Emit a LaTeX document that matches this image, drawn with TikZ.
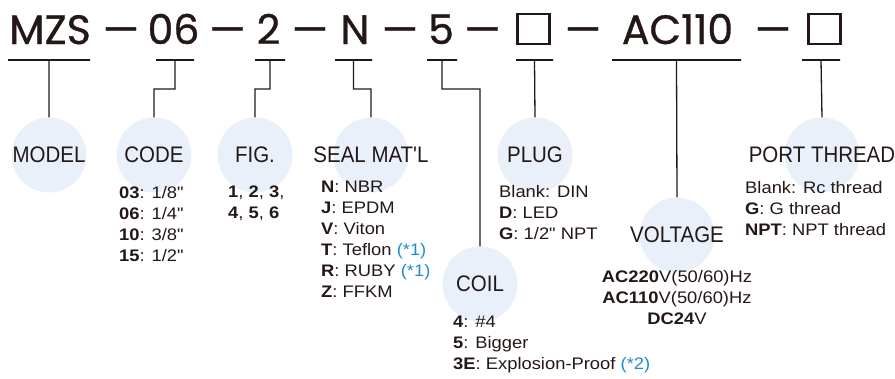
\documentclass[tikz,border=0pt]{standalone}
\usepackage{fontspec}
\setmainfont{Liberation Sans}
\newfontfamily\listfont[FakeStretch=1.1]{Liberation Sans}
\newfontfamily\labelfont[FakeStretch=0.91]{Liberation Sans}
\newfontfamily\titlefont[FakeBold=0.8]{Poppins}
\usetikzlibrary{positioning}
\definecolor{ink}{RGB}{35,24,21}
\definecolor{bubblefill}{RGB}{234,240,250}
\definecolor{noteblue}{RGB}{30,140,210}
\newcommand{\note}[1]{\textcolor{noteblue}{#1}}
\tikzset{
    %Define style for the parts of the code
    part/.style={
           font=\titlefont\fontsize{41}{41}\selectfont,
           text=ink,
           inner sep=0pt,
           anchor=base},
    blankbox/.style={
           rectangle,
           draw=ink, line width=2.6pt,
           minimum width=32pt,
           minimum height=30pt,
           inner sep=0pt},
    %Define style for the underlines
    tick/.style={
           rectangle,
           draw=ink, line width=1.3pt,
           inner sep=0pt,
           outer sep=0pt,
           minimum height=0pt},
    bubble/.style={
           circle,
           fill=bubblefill,
           minimum size=75pt,
           inner sep=0pt},
    caption/.style={
           font=\labelfont\fontsize{22.5}{24}\selectfont,
           text=ink,
           inner sep=0pt},
    list/.style={
           font=\listfont\fontsize{16.7}{21}\selectfont,
           text=ink,
           inner sep=0pt,
           align=left,
           anchor=north west},
    % Define line style
    lead/.style={
           draw=ink,
           line width=1.3pt}
}
\begin{document}
\begin{tikzpicture}[x=1pt,y=-1pt]
\useasboundingbox (0,0) rectangle (895,378);
% code
\node[part](mzs) at (50,44){MZS};
\node[part](d1) at (121,44){—};
\node[part](size) at (173.5,44){06};
\node[part](d2) at (227.5,44){—};
\node[part](fig) at (268.5,44){2};
\node[part](d3) at (310,44){—};
\node[part](seal) at (355,44){N};
\node[part](d4) at (400,44){—};
\node[part](coil) at (441,44){5};
\node[part](d5) at (482.5,44){—};
\node[blankbox](plug) at (533.5,29){};
\node[part](d6) at (583,44){—};
\node[part](volt) at (677.5,44){AC110};
\node[part](d7) at (773,44){—};
\node[blankbox](port) at (824.5,29){};
% underlines
\node[tick, minimum width=82pt](uModel) at (49,60){};
\node[tick, minimum width=38pt](uCode) at (175,60){};
\node[tick, minimum width=30pt](uFig) at (270,60){};
\node[tick, minimum width=37pt](uSeal) at (353.5,60){};
\node[tick, minimum width=30pt](uCoil) at (442,60){};
\node[tick, minimum width=37pt](uPlug) at (534.5,60){};
\node[tick, minimum width=129pt](uVolt) at (676.5,60){};
\node[tick, minimum width=38pt](uPort) at (821,60){};
% bubbles
\node[bubble](cModel) at (49,155){};
\node[bubble](cCode) at (154,155){};
\node[bubble](cFig) at (255,155){};
\node[bubble](cSeal) at (371,155){};
\node[bubble](cCoil) at (480,284){};
\node[bubble](cPlug) at (535,155){};
\node[bubble](cVolt) at (677,235){};
\node[bubble](cPort) at (822,155){};
\path[lead]
	(uModel) -- (cModel.north)
	(uCode) -- ++(0,29) -| (cCode.north)
	(uFig) -- ++(0,29) -| (cFig.north)
	(uSeal) -- ++(0,29) -| (cSeal.north)
	(uCoil) -- ++(0,29) -| (cCoil.north)
	(uPlug) -- (cPlug.north)
	(uVolt) -- (cVolt.north)
	(uPort) -- (cPort.north);
% captions
\node[caption](model) at (cModel){MODEL};
\node[caption](code) at (cCode){CODE};
\node[caption](figure) at (cFig){FIG.};
\node[caption](sealmat) at (cSeal){SEAL MAT'L};
\node[caption](coiltype) at (cCoil){COIL};
\node[caption](plugtype) at (cPlug){PLUG};
\node[caption](voltage) at (cVolt){VOLTAGE};
\node[caption](thread) at (cPort){PORT THREAD};
% options
\node[list](codeList) at (119,186){\textbf{03}: 1/8"\\\textbf{06}: 1/4"\\\textbf{10}: 3/8"\\\textbf{15}: 1/2"};
\node[list](figList) at (228,186){\textbf{1}, \textbf{2}, \textbf{3},\\\textbf{4}, \textbf{5}, \textbf{6}};
\node[list](sealList) at (321,181){\textbf{N}: NBR\\\textbf{J}: EPDM\\\textbf{V}: Viton\\\textbf{T}: Teflon \note{(*1)}\\\textbf{R}: RUBY \note{(*1)}\\\textbf{Z}: FFKM};
\node[list](coilList) at (453,316){\textbf{4}: \#4\\\textbf{5}: Bigger\\\textbf{3E}: Explosion-Proof \note{(*2)}};
\node[list](plugList) at (499,185){Blank: DIN\\\textbf{D}: LED\\\textbf{G}: 1/2" NPT};
\node[list, align=center, anchor=north](voltList) at (677,270){\textbf{AC220}V(50/60)Hz\\\textbf{AC110}V(50/60)Hz\\\textbf{DC24}V};
\node[list](portList) at (745,181){Blank: Rc thread\\\textbf{G}: G thread\\\textbf{NPT}: NPT thread};
\end{tikzpicture}
\end{document}
